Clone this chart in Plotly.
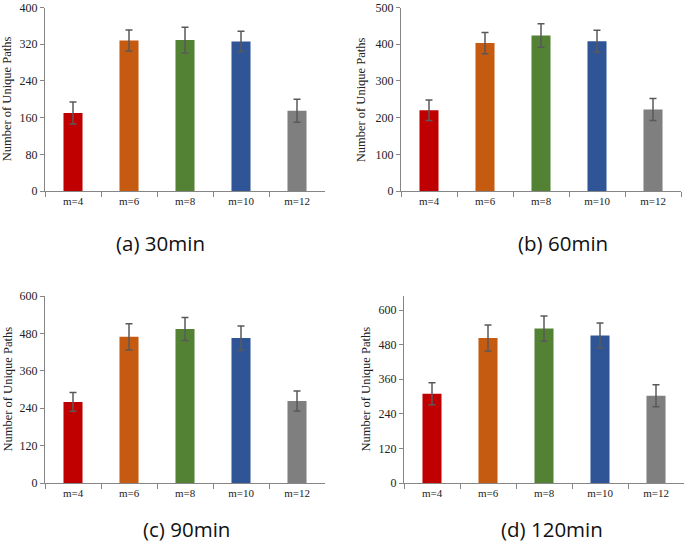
import plotly.graph_objects as go

W, H = 685, 543

categories = ["m=4", "m=6", "m=8", "m=10", "m=12"]
bar_colors = ["#C00000", "#C55A11", "#548235", "#2F5597", "#7F7F7F"]

vals_30 = [170, 328, 329, 326, 175]
err_30 = [24, 23, 28, 22, 25]
vals_60 = [220, 403, 424, 408, 222]
err_60 = [28, 29, 32, 30, 30]
vals_90 = [260, 469, 494, 465, 263]
err_90 = [30, 42, 37, 39, 32]
vals_120 = [310, 503, 536, 512, 303]
err_120 = [38, 45, 44, 43, 38]

panel_titles = ["(a) 30min", "(b) 60min", "(c) 90min", "(d) 120min"]
y_ranges = [[0, 400], [0, 500], [0, 600], [0, 649]]
y_dticks = [80, 100, 120, 120]
y_title = "Number of Unique Paths"

# panel placement in pixels: (x_left, x_right, y_top, y_bottom)
boxes = [(45, 325, 7.5, 191), (401, 681, 7.5, 191), (45, 325, 296, 483), (404, 684, 296, 483)]
ytitle_x = [7, 361, 7, 365]
sub_pos = [(160, 243), (563, 243), (187, 529), (552, 529)]

series = [(vals_30, err_30), (vals_60, err_60), (vals_90, err_90), (vals_120, err_120)]

fig = go.Figure()
axis_col = "#868686"
serif = "Liberation Serif, Times New Roman, serif"

for i, ((vals, errs), box) in enumerate(zip(series, boxes)):
    n = "" if i == 0 else str(i + 1)
    fig.add_trace(go.Bar(
        x=categories, y=vals,
        marker=dict(color=bar_colors, line=dict(width=0)),
        error_y=dict(type="data", array=errs, visible=True, color="#595959", thickness=1.5, width=3.5),
        xaxis="x" + n, yaxis="y" + n, showlegend=False, hoverinfo="skip",
    ))
    xl, xr, yt, yb = box
    fig.layout["xaxis" + n] = dict(
        domain=[xl / W, xr / W], anchor="y" + n, type="category",
        showline=True, linecolor=axis_col, linewidth=1,
        ticks="outside", ticklen=5, tickcolor=axis_col, tickson="boundaries",
        showgrid=False, zeroline=False, automargin=False, fixedrange=True,
        ticklabeloverflow="allow",
        tickfont=dict(family=serif, size=11, color="#222"),
    )
    fig.layout["yaxis" + n] = dict(
        domain=[1 - yb / H, 1 - yt / H], anchor="x" + n,
        range=y_ranges[i], dtick=y_dticks[i], tick0=0,
        showline=True, linecolor=axis_col, linewidth=1,
        ticks="outside", ticklen=4, tickcolor=axis_col,
        showgrid=False, zeroline=False, automargin=False, fixedrange=True,
        ticklabeloverflow="allow",
        tickfont=dict(family=serif, size=12, color="#222"),
    )
    fig.add_annotation(
        text=y_title, textangle=-90, xref="paper", yref="paper",
        x=ytitle_x[i] / W, y=1 - (yt + yb) / 2 / H, xanchor="center", yanchor="middle",
        showarrow=False, font=dict(family=serif, size=12.5, color="#222"),
    )
    sx, sy = sub_pos[i]
    fig.add_annotation(
        text=panel_titles[i], xref="paper", yref="paper",
        x=sx / W, y=1 - sy / H, xanchor="center", yanchor="middle",
        showarrow=False, font=dict(family="Open Sans, sans-serif", size=20.5, color="#111"),
    )

fig.update_layout(
    width=W, height=H, margin=dict(l=0, r=0, t=0, b=0, autoexpand=False),
    paper_bgcolor="white", plot_bgcolor="white",
    bargap=0.66,
)

fig.write_html(
    "out.html",
    config={"displayModeBar": False},
    post_script="document.body.style.margin='0';document.body.style.overflow='hidden';",
)
